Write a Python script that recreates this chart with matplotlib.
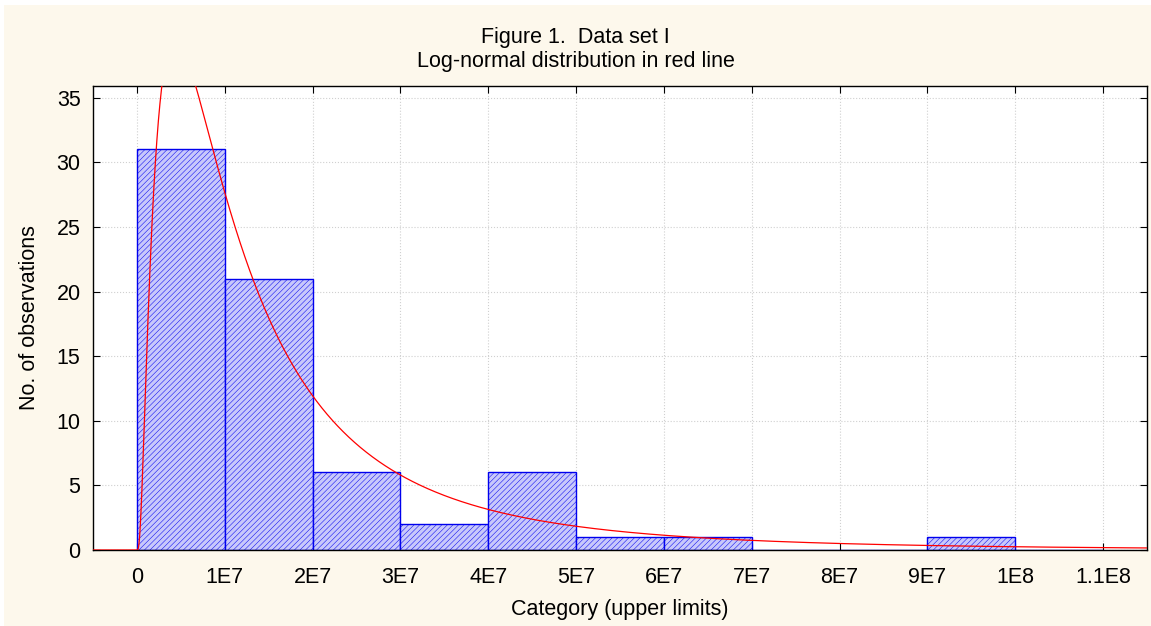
import numpy as np
import matplotlib.pyplot as plt
from matplotlib.patches import Rectangle

plt.rcParams['font.family'] = ['Liberation Sans', 'DejaVu Sans']
plt.rcParams['hatch.color'] = '#b6b6f4'
plt.rcParams['hatch.linewidth'] = 0.35

# histogram: bin edges in units of 1E7, counts per bin
bin_edges = [0, 1, 2, 3, 4, 5, 6, 7, 8, 9, 10, 11]
counts = [31, 21, 6, 2, 6, 1, 1, 0, 0, 1, 0]
tick_vals = [0, 1, 2, 3, 4, 5, 6, 7, 8, 9, 10, 11]
tick_labels = ['0', '1E7', '2E7', '3E7', '4E7', '5E7', '6E7', '7E7', '8E7', '9E7', '1E8', '1.1E8']

# fitted log-normal (x in units of 1E7)
ln_mu = 0.14
ln_sigma = 0.985

n_obs = sum(counts)
width = 1.0
fs = 15.5

fig = plt.figure(figsize=(11.51, 6.26), dpi=100, facecolor='white')
fig.patches.append(Rectangle((4 / 1151, 0), 1 - 4 / 1151, 1 - 5 / 626, transform=fig.transFigure,
                             facecolor='#fdf8ec', edgecolor='none', zorder=-10))
ax = fig.add_axes([93 / 1151, 76 / 626, 1054 / 1151, 464 / 626])
ax.set_facecolor('white')

lefts = bin_edges[:-1]
ax.bar(lefts, counts, width=width, align='edge', facecolor='#c8c8fb', edgecolor='#0000ee',
       hatch='//////', linewidth=1.0, zorder=2)

x = np.linspace(-0.5, 11.5, 2000)
pos = np.clip(x, 1e-9, None)
pdf = np.where(x > 0, np.exp(-(np.log(pos) - ln_mu) ** 2 / (2 * ln_sigma ** 2)) /
               (pos * ln_sigma * np.sqrt(2 * np.pi)), 0.0)
ax.plot(x, n_obs * width * pdf, color='#ff0000', linewidth=0.9, zorder=3)

ax.set_xlim(-0.5, 11.5)
ax.set_ylim(0, 35.9)
ax.set_xticks(tick_vals)
ax.set_xticklabels(tick_labels)
ax.set_yticks(range(0, 36, 5))
ax.tick_params(direction='in', top=True, right=True, labelsize=fs, length=5)
ax.tick_params(axis='x', pad=12)
ax.tick_params(axis='y', pad=9)
ax.grid(True, color='#d0d0d0', linestyle=':', linewidth=0.8, zorder=0)
ax.set_axisbelow(True)
for s in ax.spines.values():
    s.set_linewidth(1.0)

ax.set_xlabel('Category (upper limits)', fontsize=fs, labelpad=8)
ax.set_ylabel('No. of observations', fontsize=fs, labelpad=12)
fig.text(0.5, 1 - 37 / 626, 'Figure 1.  Data set I', ha='center', va='center', fontsize=fs)
fig.text(0.5, 1 - 62 / 626, 'Log-normal distribution in red line', ha='center', va='center', fontsize=fs)

fig.savefig('out.png', dpi=100, facecolor=fig.get_facecolor())
